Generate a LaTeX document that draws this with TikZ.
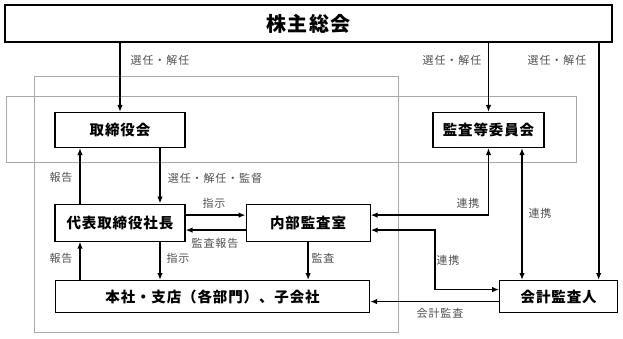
\documentclass[tikz,border=0pt]{standalone}
\usepackage{fontspec}
\setmainfont{Noto Sans CJK JP}
\usepackage{xcolor}
\usetikzlibrary{arrows.meta, positioning, backgrounds}
\definecolor{lblgray}{HTML}{505050}
\definecolor{framegray}{HTML}{A8A8A8}

\begin{document}
\begin{tikzpicture}[
  x = 1pt, y = -1pt,
  box/.style = {rectangle, draw, line width=1.1pt, fill=white, align=center,
                inner sep=0pt, font=\fontsize{14.5}{16}\selectfont\bfseries\addfontfeature{LetterSpace=6}},
  lbl/.style = {font=\fontsize{11}{13}\selectfont\addfontfeature{LetterSpace=8}, text=lblgray, inner sep=0pt},
  arr/.style = {-{Latex[length=7pt,width=5.5pt]}, line width=1.8pt},
  darr/.style = {{Latex[length=7pt,width=5.5pt]}-{Latex[length=7pt,width=5.5pt]}, line width=1.8pt},
  frame/.style = {draw=framegray, line width=0.9pt}
]
  \useasboundingbox (0,0) rectangle (623,338);

  \node[box, minimum width=607pt, minimum height=37pt,
        font=\fontsize{20}{22}\selectfont\bfseries\addfontfeature{LetterSpace=6}] (gm) at (308.5,23.5) {株主総会};
  \node[box, minimum width=130pt, minimum height=35pt] (board) at (120,130) {取締役会};
  \node[box, minimum width=111pt, minimum height=35pt] (ac) at (488.5,130) {監査等委員会};
  \node[box, minimum width=130pt, minimum height=37pt, below=55.5pt of board] (pres) {代表取締役社長};
  \node[box, minimum width=124pt, minimum height=37pt, right=60pt of pres] (ia) {内部監査室};
  \node[box, minimum width=314pt, minimum height=32pt, anchor=north west] (ops) at (55,280) {本社・支店（各部門）、子会社};
  \node[box, minimum width=118pt, minimum height=32pt, right=129pt of ops] (ext) {会計監査人};

  \begin{scope}[on background layer]
    \draw[frame] (34,76) rectangle (398,332);
    \draw[frame] (6,96) rectangle (576,162);
  \end{scope}

  \coordinate (extin) at ([xshift=40pt]ext.north);
  \draw[arr] (gm.south -| board.north) -- (board.north);
  \draw[arr] (gm.south -| ac.north) -- (ac.north);
  \draw[arr] (gm.south -| extin) -- (extin);
  \draw[arr] ([xshift=-40pt]pres.north) -- ([xshift=-40pt]board.south);
  \draw[arr] ([xshift=40pt]board.south) -- ([xshift=40pt]pres.north);
  \draw[arr] ([yshift=7.5pt]pres.east) -- ([yshift=7.5pt]ia.west);
  \draw[arr] ([yshift=-7.5pt]ia.west) -- ([yshift=-7.5pt]pres.east);
  \draw[darr] (ac.south) |- ([yshift=7.5pt]ia.east);
  \draw[darr] ([xshift=33.5pt]ac.south) -- ([xshift=33.5pt]ac.south |- ext.north);
  \draw[darr] ([yshift=-7.5pt]ia.east) -- ++(64,0) |- ([yshift=7pt]ext.west);
  \draw[arr] ([yshift=-5pt]ext.west) -- ([yshift=-5pt]ext.west -| ops.east);
  \draw[arr] ([xshift=-40pt]pres.south |- ops.north) -- ([xshift=-40pt]pres.south);
  \draw[arr] ([xshift=40pt]pres.south) -- ([xshift=40pt]pres.south |- ops.north);
  \draw[arr] (ia.south) -- (ia.south |- ops.north);

  \node[lbl] (sel1) at (160,60) {選任・解任};
  \node[lbl] (sel2) at (452,60) {選任・解任};
  \node[lbl] (sel3) at (557,60) {選任・解任};
  \node[lbl] (rep1) at (61,177) {報告};
  \node[lbl] (sup)  at (215,178) {選任・解任・監督};
  \node[lbl] (ins1) at (214,203) {指示};
  \node[lbl] (arep) at (215,243) {監査報告};
  \node[lbl] (co1)  at (468,203) {連携};
  \node[lbl] (co2)  at (540,213) {連携};
  \node[lbl] (co3)  at (448,260) {連携};
  \node[lbl] (rep2) at (61,258) {報告};
  \node[lbl] (ins2) at (178,258) {指示};
  \node[lbl] (aud)  at (323,258) {監査};
  \node[lbl] (eaud) at (440,313) {会計監査};
\end{tikzpicture}
\end{document}
